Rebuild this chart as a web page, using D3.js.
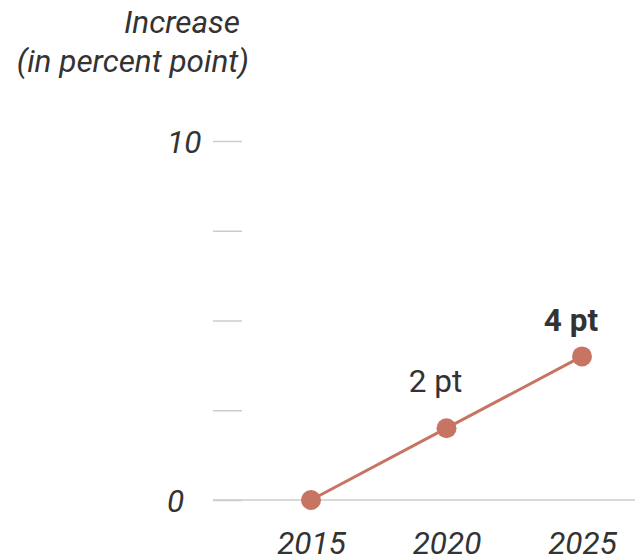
<!DOCTYPE html>
<html>
<head>
<meta charset="utf-8">
<script src="https://cdn.jsdelivr.net/npm/d3@7"></script>
<style>
  html, body { margin: 0; padding: 0; background: #fff; }
  svg { display: block; font-family: Roboto, "Noto Sans", sans-serif; }
</style>
</head>
<body>
<svg id="chart" width="635" height="560"></svg>
<script>
// Series: increase in percentage points by year
const years = [2015, 2020, 2025];
const values = [0, 2, 4];
const valueLabels = ["", "2 pt", "4 pt"];
const yTicks = [0, 2.5, 5, 7.5, 10];
const yTickLabels = ["0", "", "", "", "10"];
const titleLines = ["Increase", "(in percent point)"];

const svg = d3.select("#chart");
const color = "#c87462";
const textColor = "#333333";
const fs = 31.5;

const x = d3.scaleLinear().domain([2015, 2025]).range([311, 582]);
const y = d3.scaleLinear().domain([0, 10]).range([500, 141]);

// Axis title
svg.append("text").attr("x", 240).attr("y", 33)
  .attr("text-anchor", "end").attr("font-style", "italic")
  .attr("font-size", fs).attr("fill", textColor).text(titleLines[0]);
svg.append("text").attr("x", 249).attr("y", 72)
  .attr("text-anchor", "end").attr("font-style", "italic")
  .attr("font-size", fs).attr("fill", textColor).text(titleLines[1]);

// Y axis ticks (short marks), labels only at ends, left-aligned
const yAxis = d3.axisLeft(y).tickValues(yTicks).tickSize(0)
  .tickFormat((d, i) => yTickLabels[i]);
const yg = svg.append("g").attr("transform", "translate(200,0)").call(yAxis);
yg.select(".domain").remove();
yg.selectAll(".tick text").attr("x", -33).attr("dy", "0.36em")
  .attr("text-anchor", "start")
  .attr("font-size", fs).attr("font-style", "italic").attr("fill", textColor)
  .attr("font-family", "Roboto, sans-serif");
yg.selectAll(".tick").append("line")
  .attr("x1", 13).attr("x2", 42).attr("y1", 0).attr("y2", 0)
  .attr("stroke", "#cccccc").attr("stroke-width", 1.5);

// Baseline
svg.append("line").attr("x1", 213).attr("x2", 635)
  .attr("y1", y(0)).attr("y2", y(0))
  .attr("stroke", "#cccccc").attr("stroke-width", 1.5);

// X axis labels
const xAxis = d3.axisBottom(x).tickValues(years).tickSize(0).tickFormat(d3.format("d"));
const xg = svg.append("g").attr("transform", "translate(0,532)").call(xAxis);
xg.select(".domain").remove();
xg.selectAll(".tick text").attr("y", 0).attr("dy", "0.7em")
  .attr("font-size", fs).attr("font-style", "italic").attr("fill", textColor)
  .attr("font-family", "Roboto, sans-serif");

const data = years.map((yr, i) => ({ year: yr, value: values[i], label: valueLabels[i] }));

// Line
svg.append("path").datum(data)
  .attr("fill", "none").attr("stroke", color).attr("stroke-width", 3)
  .attr("d", d3.line().x(d => x(d.year)).y(d => y(d.value)));

// Points
svg.selectAll("circle.pt").data(data).join("circle")
  .attr("class", "pt")
  .attr("cx", d => x(d.year)).attr("cy", d => y(d.value)).attr("r", 10)
  .attr("fill", color);

// Value labels; the latest value is emphasised and sits closer to its point
const labelled = data.filter(d => d.label);
svg.selectAll("text.val").data(labelled).join("text")
  .attr("class", "val")
  .attr("x", d => x(d.year) - 11)
  .attr("y", (d, i) => y(d.value) - (i === labelled.length - 1 ? 25 : 36))
  .attr("text-anchor", "middle").attr("font-size", fs)
  .attr("font-weight", (d, i) => i === labelled.length - 1 ? "bold" : "normal")
  .attr("fill", textColor).text(d => d.label);
</script>
</body>
</html>
